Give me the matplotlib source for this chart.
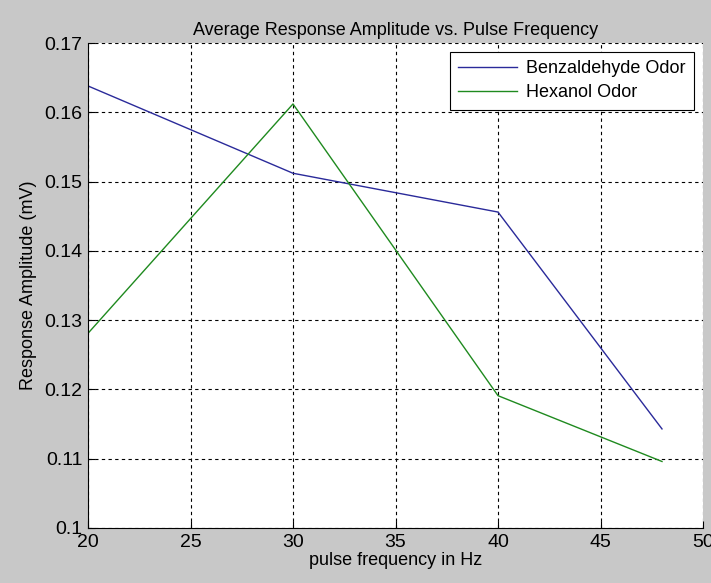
import matplotlib.pyplot as plt

plt.rcParams['font.family'] = ['Liberation Sans', 'DejaVu Sans']

freq_benz = [20, 30, 40, 48]
amp_benz = [0.1638, 0.1512, 0.1456, 0.1143]
freq_hex = [20, 30, 40, 48]
amp_hex = [0.1281, 0.1612, 0.1191, 0.1096]

fig = plt.figure(figsize=(7.11, 5.83), dpi=100, facecolor='#c8c8c8')
ax = fig.add_axes([88/711, 55/583, 615/711, 485/583])
ax.set_facecolor('white')

ax.plot(freq_benz, amp_benz, color='#2a2a9a', lw=1.0, label='Benzaldehyde Odor')
ax.plot(freq_hex, amp_hex, color='#1f8a1f', lw=1.0, label='Hexanol Odor')

ax.set_xlim(20, 50)
ax.set_ylim(0.1, 0.17)
ax.set_xticks([20, 25, 30, 35, 40, 45, 50])
ax.set_yticks([0.1, 0.11, 0.12, 0.13, 0.14, 0.15, 0.16, 0.17])
ax.set_yticklabels(['0.1', '0.11', '0.12', '0.13', '0.14', '0.15', '0.16', '0.17'])
ax.tick_params(direction='in', length=5, labelsize=14, colors='black', pad=4)
ax.grid(True, color='black', linestyle=(0, (3, 3)), linewidth=0.8)
ax.spines['top'].set_visible(False)
ax.spines['right'].set_visible(False)

ax.set_title('Average Response Amplitude vs. Pulse Frequency', fontsize=13, pad=6)
ax.set_xlabel('pulse frequency in Hz', fontsize=13, labelpad=1)
ax.set_ylabel('Response Amplitude (mV)', fontsize=13, labelpad=5)

leg = ax.legend(loc='upper right', fontsize=13, fancybox=False, framealpha=1,
                edgecolor='black', borderpad=0.45, handlelength=3.3,
                handletextpad=0.5, labelspacing=0.4, borderaxespad=0.5)
leg.get_frame().set_linewidth(0.8)

fig.savefig('out.png', dpi=100, facecolor=fig.get_facecolor())
